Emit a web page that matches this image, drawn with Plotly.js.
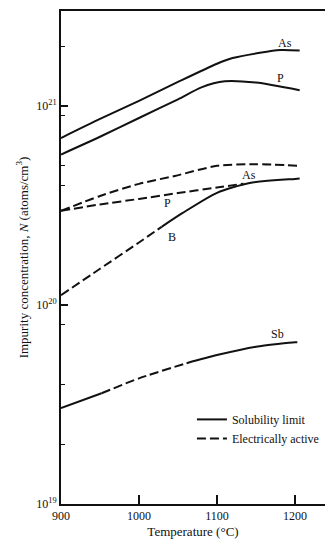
<!DOCTYPE html>
<html>
<head>
<meta charset="utf-8">
<script src="https://cdn.plot.ly/plotly-3.0.1.min.js"></script>
<style>html,body{margin:0;padding:0;background:#fff;}#chart{width:325px;height:539px;}</style>
</head>
<body>
<div id="chart"></div>
<script>
// Temperatures (°C) and concentrations (atoms/cm^3)
var asSolT = [900, 950, 1000, 1050, 1100, 1120, 1155, 1181, 1206];
var asSolN = [6.9e20, 8.6e20, 1.06e21, 1.32e21, 1.63e21, 1.74e21, 1.85e21, 1.91e21, 1.9e21];

var pSolT = [900, 950, 1000, 1050, 1080, 1110, 1150, 1206];
var pSolN = [5.7e20, 7.0e20, 8.7e20, 1.08e21, 1.24e21, 1.33e21, 1.31e21, 1.2e21];

var asActT = [900, 950, 1000, 1046, 1100, 1150, 1206];
var asActN = [2.97e20, 3.53e20, 4.06e20, 4.45e20, 5.0e20, 5.1e20, 5.0e20];

var pActT = [900, 950, 1000, 1050, 1100, 1134];
var pActN = [2.97e20, 3.2e20, 3.41e20, 3.65e20, 3.89e20, 4.07e20];

var bDashT = [900, 950, 1000, 1029];
var bDashN = [1.12e20, 1.52e20, 2.06e20, 2.47e20];
var bSolT = [1029, 1056, 1100, 1142, 1200, 1206];
var bSolN = [2.47e20, 2.9e20, 3.66e20, 4.1e20, 4.3e20, 4.32e20];

var sbSolT1 = [900, 952];
var sbSolN1 = [3.03e19, 3.6e19];
var sbDashT = [952, 1000, 1061];
var sbDashN = [3.6e19, 4.28e19, 5.1e19];
var sbSolT2 = [1061, 1100, 1150, 1200, 1203];
var sbSolN2 = [5.1e19, 5.6e19, 6.17e19, 6.5e19, 6.5e19];

var xTicks = [900, 1000, 1100, 1200];
var yTicks = [1e19, 1e20, 1e21];
var yTickText = ['10<sup>19</sup>', '10<sup>20</sup>', '10<sup>21</sup>'];
var yMinorTicks = [2e19, 4e19, 8e19, 4e20, 5e20, 9e20, 2e21];

var curveLabels = ['As', 'P', 'As', 'P', 'B', 'Sb'];
var labelT = [1187, 1182, 1141, 1037, 1042, 1177];
var labelLogN = [21.317, 21.14, 20.653, 20.513, 20.342, 19.854];

var ink = '#111';
var serif = 'Liberation Serif';
var dashStyle = '9px,4px';

function tr(x, y, dash, name, show) {
  return {x: x, y: y, type: 'scatter', mode: 'lines',
    line: {color: ink, width: 2, dash: dash, shape: 'spline', smoothing: 0.7},
    name: name || '', showlegend: !!show, hoverinfo: 'skip'};
}

var data = [
  tr(asSolT, asSolN, 'solid', 'Solubility limit', true),
  tr(pSolT, pSolN, 'solid'),
  tr(asActT, asActN, dashStyle, 'Electrically active', true),
  tr(pActT, pActN, dashStyle),
  tr(bDashT, bDashN, dashStyle),
  tr(bSolT, bSolN, 'solid'),
  tr(sbSolT1, sbSolN1, 'solid'),
  tr(sbDashT, sbDashN, dashStyle),
  tr(sbSolT2, sbSolN2, 'solid')
];

var annotations = curveLabels.map(function (t, i) {
  return {x: labelT[i], y: labelLogN[i], xref: 'x', yref: 'y', text: t,
    showarrow: false, font: {family: serif, size: 12, color: ink}};
});

var layout = {
  width: 325, height: 539,
  margin: {l: 61, r: 0, t: 11, b: 35, pad: 0},
  paper_bgcolor: '#fff', plot_bgcolor: '#fff',
  font: {family: serif, size: 12, color: ink},
  showlegend: true,
  legend: {x: 0.496, y: 0.201, xanchor: 'left', yanchor: 'top',
    bgcolor: 'rgba(0,0,0,0)', font: {family: serif, size: 12, color: ink},
    itemwidth: 30, tracegroupgap: 0},
  xaxis: {
    range: [900, 1238.5], tickvals: xTicks, ticktext: xTicks.map(String),
    ticks: 'inside', ticklen: 9, tickwidth: 1.5, tickcolor: ink,
    showline: true, linewidth: 2, linecolor: ink, mirror: true,
    showgrid: false, zeroline: false,
    tickfont: {family: serif, size: 12, color: ink},
    title: {text: 'Temperature (°C)', font: {family: serif, size: 13, color: ink}, standoff: 5}
  },
  yaxis: {
    type: 'log', range: [19, 21.477],
    tickvals: yTicks, ticktext: yTickText,
    ticks: 'inside', ticklen: 7, tickwidth: 1.5, tickcolor: ink,
    minor: {tickvals: yMinorTicks, ticks: 'inside', ticklen: 4, tickwidth: 1, tickcolor: ink, showgrid: false},
    showline: true, linewidth: 2, linecolor: ink, mirror: false,
    showgrid: false, zeroline: false,
    tickfont: {family: serif, size: 12, color: ink},
    title: {text: 'Impurity concentration, <i>N</i> (atoms/cm<sup>3</sup>)', font: {family: serif, size: 13, color: ink}, standoff: 5}
  },
  annotations: annotations
};

Plotly.newPlot('chart', data, layout, {displayModeBar: false, staticPlot: true});
</script>
</body>
</html>
